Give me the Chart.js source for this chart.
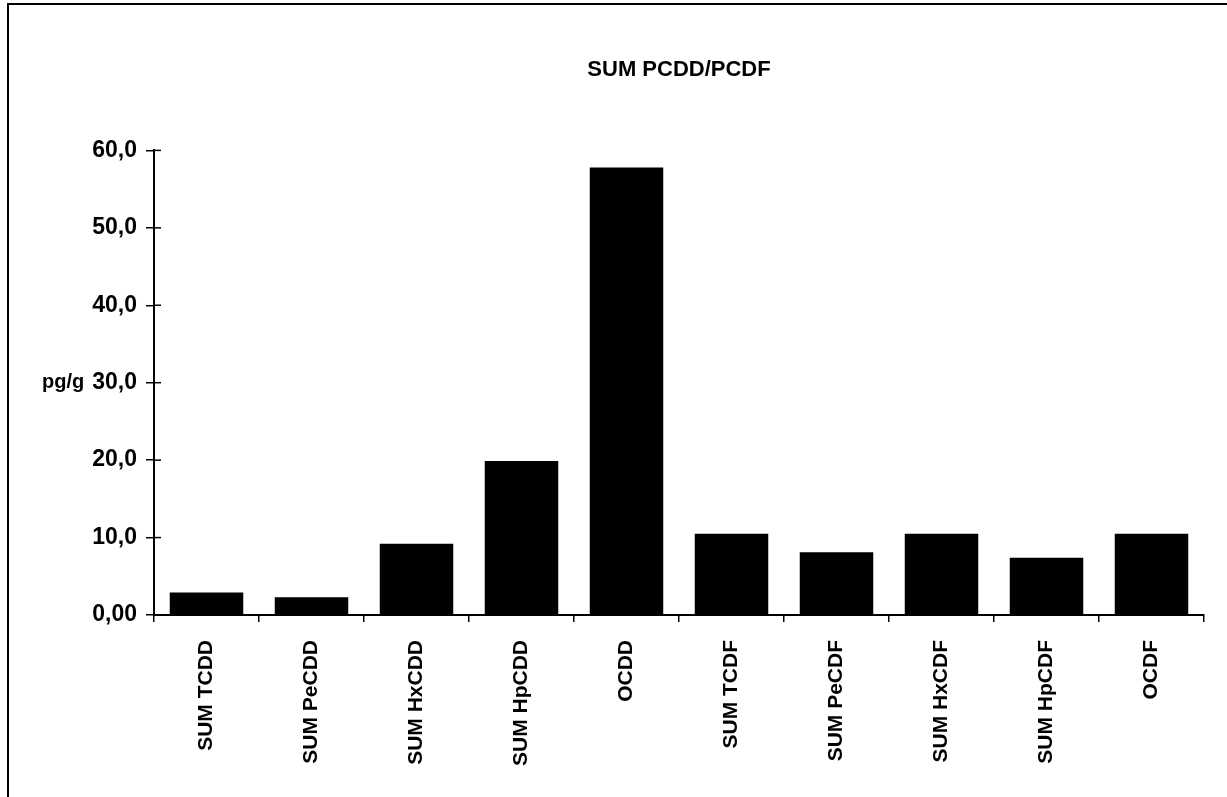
<!DOCTYPE html>
<html>
<head>
<meta charset="utf-8">
<title>SUM PCDD/PCDF</title>
<script src="https://cdn.jsdelivr.net/npm/chart.js@4"></script>
<style>
  html, body { margin: 0; padding: 0; background: #fff; }
  #wrap { width: 1227px; height: 797px; position: relative; }
</style>
</head>
<body>
<div id="wrap"><canvas id="chart"></canvas></div>
<script>
// data
const categories = ['SUM TCDD', 'SUM PeCDD', 'SUM HxCDD', 'SUM HpCDD', 'OCDD',
                    'SUM TCDF', 'SUM PeCDF', 'SUM HxCDF', 'SUM HpCDF', 'OCDF'];
const values = [2.9, 2.3, 9.2, 19.9, 57.8, 10.5, 8.1, 10.5, 7.4, 10.5];
const yTickLabels = ['0,00', '10,0', '20,0', '30,0', '40,0', '50,0', '60,0'];
const chartTitle = 'SUM PCDD/PCDF';
const unitLabel = 'pg/g';

const FONT = "'Liberation Sans', Arial, sans-serif";

// frame round the whole chart (left and top edges are visible)
const framePlugin = {
  id: 'frame',
  beforeDraw(chart) {
    const ctx = chart.ctx;
    ctx.save();
    ctx.strokeStyle = '#000';
    ctx.lineWidth = 2;
    ctx.beginPath();
    ctx.moveTo(8, chart.height);
    ctx.lineTo(8, 4);
    ctx.lineTo(chart.width, 4);
    ctx.stroke();
    ctx.restore();
  }
};

// unit label next to the 30 tick, plus the part of the y ticks that crosses into the plot
const axisExtras = {
  id: 'axisExtras',
  afterDraw(chart) {
    const ctx = chart.ctx;
    const y = chart.scales.y;
    ctx.save();
    ctx.fillStyle = '#000';
    ctx.font = 'bold 20px ' + FONT;
    ctx.textAlign = 'left';
    ctx.textBaseline = 'middle';
    ctx.fillText(unitLabel, 42, y.getPixelForValue(30));

    ctx.strokeStyle = '#000';
    ctx.lineWidth = 1.5;
    y.ticks.forEach(function (t) {
      const py = y.getPixelForValue(t.value);
      ctx.beginPath();
      ctx.moveTo(y.right, py);
      ctx.lineTo(y.right + 7, py);
      ctx.stroke();
    });
    ctx.restore();
  }
};

const ctx = document.getElementById('chart').getContext('2d');
new Chart(ctx, {
  type: 'bar',
  data: {
    labels: categories,
    datasets: [{
      data: values,
      backgroundColor: '#000',
      borderWidth: 0,
      barPercentage: 0.7,
      categoryPercentage: 1.0
    }]
  },
  options: {
    responsive: true,
    maintainAspectRatio: false,
    animation: false,
    layout: { padding: { left: 0, right: 23, top: 0, bottom: 0 } },
    plugins: {
      legend: { display: false },
      tooltip: { enabled: false },
      title: {
        display: true,
        fullSize: false,
        text: chartTitle,
        color: '#000',
        font: { family: FONT, size: 22, weight: 'bold', lineHeight: 1.2 },
        padding: { top: 57, bottom: 67 }
      }
    },
    scales: {
      x: {
        border: { display: true, color: '#000', width: 2 },
        grid: {
          display: true,
          offset: true,
          drawOnChartArea: false,
          drawTicks: true,
          tickLength: 7,
          color: '#000',
          lineWidth: 1.5
        },
        ticks: {
          color: '#000',
          font: { family: FONT, size: 21, weight: 'bold' },
          minRotation: 90,
          maxRotation: 90,
          padding: 18,
          autoSkip: false
        },
        afterFit(scale) { scale.height = 182; }
      },
      y: {
        min: 0,
        max: 60,
        border: { display: true, color: '#000', width: 2 },
        grid: {
          display: true,
          drawOnChartArea: false,
          drawTicks: true,
          tickLength: 8,
          color: '#000',
          lineWidth: 1.5
        },
        ticks: {
          stepSize: 10,
          color: '#000',
          font: { family: FONT, size: 23, weight: 'bold' },
          padding: 9,
          callback: function (value, index) { return yTickLabels[index]; }
        },
        afterFit(scale) { scale.width = 154; }
      }
    }
  },
  plugins: [framePlugin, axisExtras]
});
</script>
</body>
</html>
